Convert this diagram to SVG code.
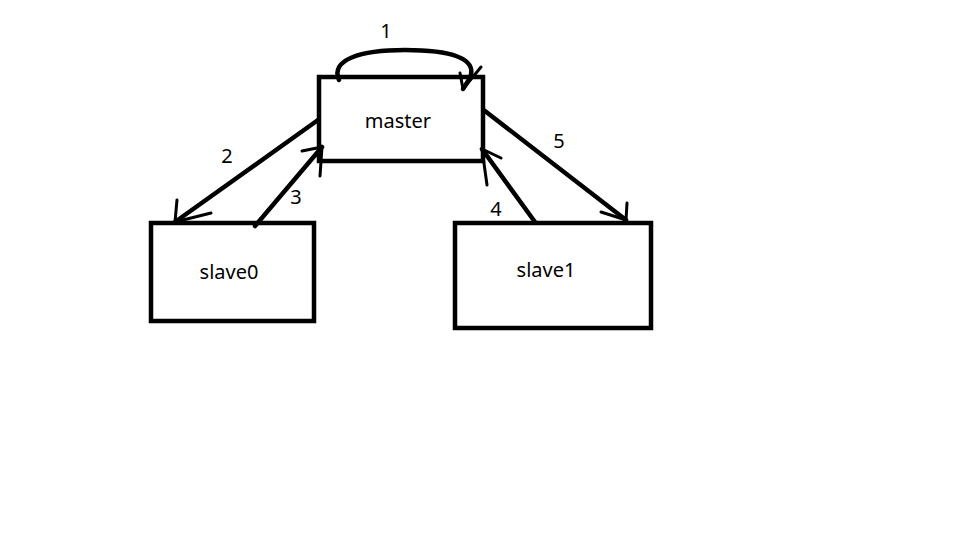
<svg xmlns="http://www.w3.org/2000/svg" width="960" height="540" viewBox="0 0 960 540">
<style>
.box{fill:#fff;stroke:#000;stroke-width:4.5}
.ln{fill:none;stroke:#000;stroke-width:4.5;stroke-linecap:round;stroke-linejoin:round}
.hd{fill:none;stroke:#000;stroke-width:3;stroke-linecap:round;stroke-linejoin:round}
text{font-family:"Noto Sans","Open Sans",sans-serif;font-size:20px;fill:#000}
.lb{text-anchor:middle}
</style>
<rect width="960" height="540" fill="#fff"/>
<g id="master"><rect class="box" x="319" y="77" width="164" height="84"/><text class="lb" x="398" y="128">master</text></g>
<g id="slave0"><rect class="box" x="151" y="223" width="163" height="98"/><text class="lb" x="229" y="279">slave0</text></g>
<g id="slave1"><rect class="box" x="455" y="223" width="196" height="105"/><text class="lb" x="546" y="277">slave1</text></g>
<g id="connectors">
<path class="ln" d="M339,80 C330,60 360,50 405,50 C450,50 478,58 470,78 L463,89"/>
<path class="hd" d="M463,89 L481,67 M463,89 L460,73"/>
<text class="lb" x="386" y="38">1</text>
<path class="ln" d="M318,120 L175,222"/>
<path class="hd" d="M175,222 L177,200 M175,222 L211,213"/>
<text class="lb" x="227" y="163">2</text>
<path class="ln" d="M255,226 L322,147"/>
<path class="hd" d="M322,147 L302,151 M322,147 L320,176"/>
<text class="lb" x="296" y="204">3</text>
<path class="ln" d="M535,222 L482,149"/>
<path class="hd" d="M482,149 L501,158 M482,149 L487,185"/>
<text class="lb" x="496" y="216">4</text>
<path class="ln" d="M485,111 L626,220"/>
<path class="hd" d="M626,220 L601,212 M626,220 L627,203"/>
<text class="lb" x="559" y="148">5</text>
</g>
</svg>
